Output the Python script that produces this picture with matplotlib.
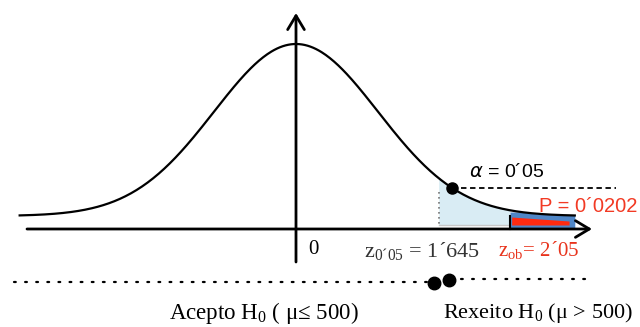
import numpy as np
import matplotlib
matplotlib.use("Agg")
import matplotlib.pyplot as plt

# ---- data (drawing units: z along x, normal density along y) ----
curve_range = [-3.37, 3.40]          # extent of drawn bell curve
alpha_z = 1.90                       # drawn position of alpha point
shade_range = [1.74, 2.61]           # light-blue region (critical tail)
pvalue_range = [2.61, 3.40]          # blue/red p-value sliver
labels_top = ["$\\alpha$ = 0\u00b405", "P = 0\u00b40202"]
label_zero = "0"
label_zcrit = "z$_{\\mathregular{0\u00b405}}$ = 1\u00b4645"
label_zob = "z$_{\\mathregular{ob}}$= 2\u00b405"
region_labels = ["Acepto H$_{\\mathregular{0}}$ ( \u03bc\u2264 500)",
                 "Rexeito H$_{\\mathregular{0}}$ (\u03bc > 500)"]

# ---- layout helpers (pixel -> drawing units) ----
K = 82.0
PDF0 = 1 / np.sqrt(2 * np.pi)
S = 172.0 / PDF0
def X(px): return (px - 296) / K
def Y(py): return (216 - py) / S
def pdf(z): return np.exp(-np.asarray(z) ** 2 / 2) / np.sqrt(2 * np.pi)

plt.rcParams['mathtext.fontset'] = 'custom'
plt.rcParams['mathtext.rm'] = 'Liberation Serif'
plt.rcParams['mathtext.it'] = 'DejaVu Sans:italic'

fig = plt.figure(figsize=(6.4, 3.27), dpi=100)
ax = fig.add_axes([0, 0, 1, 1])
ax.set_xlim(X(0), X(640))
ax.set_ylim(Y(327), Y(0))
ax.axis('off')

# light blue shaded critical region
zs = np.linspace(shade_range[0], shade_range[1], 100)
ax.fill_between(zs, Y(225), pdf(zs), color='#d9ecf4', lw=0, zorder=1)
ax.plot([zs[0], zs[-1]], [Y(225), Y(225)], color='#c8c8c8', lw=1, zorder=1)
ax.plot([shade_range[0]] * 2, [Y(192), Y(224)], color='#777777', lw=1.2,
        ls=(0, (1, 2)), zorder=2)

# blue / red p-value sliver
zp = np.linspace(pvalue_range[0], pvalue_range[1], 60)
ax.fill_between(zp, Y(228), np.minimum(np.maximum(pdf(zp), Y(215)), Y(212)),
                color='#4f86c6', lw=0, zorder=2)
ax.fill_between([zp[0] + 0.02, zp[-1] - 0.07], [Y(225), Y(225)], [Y(217), Y(221)],
                color='#ff2a10', lw=0, zorder=3)
ax.plot([pvalue_range[0]] * 2, [Y(216), Y(229)], color='black', lw=1.5, zorder=4)

# bell curve
zc = np.linspace(curve_range[0], curve_range[1], 400)
ax.plot(zc, pdf(zc), color='black', lw=1.6, zorder=5)

# axes with arrows
arr = dict(arrowstyle='->,head_length=1.0,head_width=0.6', lw=2, color='black',
           shrinkA=0, shrinkB=0, mutation_scale=10)
ax.annotate('', xy=(X(592), Y(229)), xytext=(X(27), Y(229)), arrowprops=arr, zorder=6)
ax.annotate('', xy=(X(296), Y(13)), xytext=(X(296), Y(262)), arrowprops=arr, zorder=6)

# alpha point and dashed line
ya = pdf(alpha_z)
ax.plot([alpha_z, X(616)], [ya, ya], color='black', lw=1.3, ls=(0, (3, 2)), zorder=4)
ax.plot([alpha_z], [ya], 'o', color='black', ms=8, zorder=7)

# texts
ax.text(X(469), Y(172), labels_top[0], fontsize=14, family='Liberation Sans',
        va='center', ha='left')
ax.text(X(539), Y(207), labels_top[1], fontsize=14.5, family='Liberation Sans',
        color='#f23a24', va='center', ha='left', zorder=8)
ax.text(X(313), Y(249), label_zero, fontsize=15, family='Liberation Serif',
        va='center', ha='center')
ax.text(X(364), Y(252), label_zcrit, fontsize=16, family='Liberation Serif',
        color='#333333', va='center', ha='left')
ax.text(X(498), Y(251), label_zob, fontsize=15, family='Liberation Serif',
        color='#e8331c', va='center', ha='left')

# decision line at bottom
ax.plot([X(14), X(427)], [Y(282), Y(282)], color='black', lw=1.6,
        ls=(0, (0.8, 4.2)), dash_capstyle='round')
ax.plot([X(461), X(590)], [Y(279), Y(279)], color='black', lw=1.6,
        ls=(0, (0.8, 4.2)), dash_capstyle='round')
ax.plot([X(434), X(449)], [Y(283), Y(280)], 'o', color='black', ms=9, ls='none')

ax.text(X(169), Y(313), region_labels[0], fontsize=16.5, family='Liberation Serif',
        va='center', ha='left')
ax.text(X(443), Y(313), region_labels[1], fontsize=16, family='Liberation Serif',
        va='center', ha='left')

fig.savefig('out.png', dpi=100)
